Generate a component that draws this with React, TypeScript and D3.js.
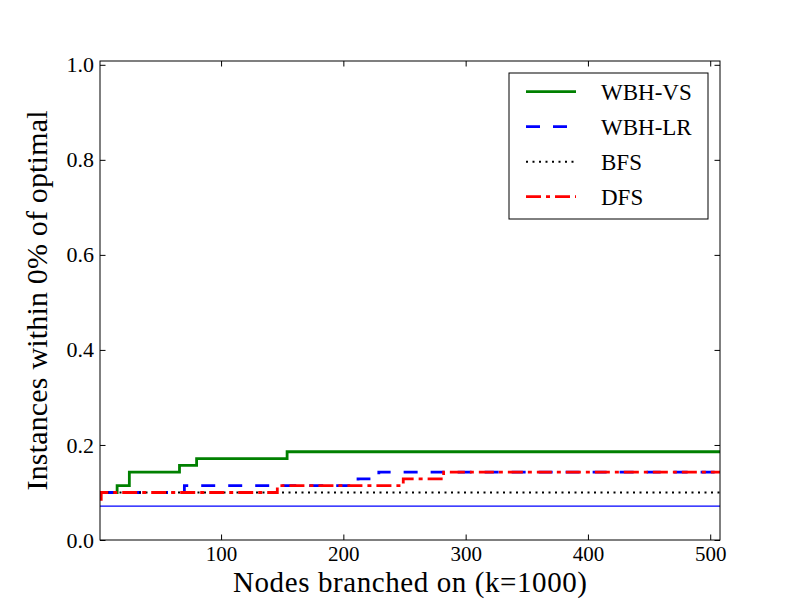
import React, { useEffect, useRef } from 'react';
import * as d3 from 'd3';

// solved instance counts (out of 70) as step changes over nodes branched on
const totalInstances = 70;
const vsNodes = [1, 15, 25, 66, 80, 154, 508];
const vsSolved = [7, 8, 10, 11, 12, 13, 13];
const lrNodes = [1, 70, 212, 229, 508];
const lrSolved = [7, 8, 9, 10, 10];
const bfsNodes = [1, 508];
const bfsSolved = [7, 7];
const dfsNodes = [1, 2, 146, 249, 282, 508];
const dfsSolved = [6, 7, 8, 9, 10, 10];
const refNodes = [1, 508];
const refSolved = [5, 5];

const xTicks = [100, 200, 300, 400, 500];
const yTicks = [0, 0.2, 0.4, 0.6, 0.8, 1.0];

interface Series {
  name: string;
  nodes: number[];
  solved: number[];
  color: string;
  width: number;
  dash: string | null;
  legend: boolean;
}

const series: Series[] = [
  { name: 'WBH-VS', nodes: vsNodes, solved: vsSolved, color: '#008000', width: 2.8, dash: null, legend: true },
  { name: 'WBH-LR', nodes: lrNodes, solved: lrSolved, color: '#0000ff', width: 2.8, dash: '14,13', legend: true },
  { name: 'BFS', nodes: bfsNodes, solved: bfsSolved, color: '#000000', width: 2, dash: '2,4.5', legend: true },
  { name: 'DFS', nodes: dfsNodes, solved: dfsSolved, color: '#ff0000', width: 2.8, dash: '15,5,4,5', legend: true },
  { name: 'ref', nodes: refNodes, solved: refSolved, color: '#0000ff', width: 1.3, dash: null, legend: false },
];

const FONT = "'Liberation Serif', 'DejaVu Serif', serif";

const App: React.FC = () => {
  const svgRef = useRef<SVGSVGElement>(null);

  useEffect(() => {
    const svg = d3.select(svgRef.current!);
    svg.selectAll('*').remove();

    const margin = { top: 61, right: 80, bottom: 60, left: 100 };
    const width = 800;
    const height = 600;
    const innerW = width - margin.left - margin.right;
    const innerH = height - margin.top - margin.bottom;

    const x = d3.scaleLinear().domain([1, 508]).range([0, innerW]);
    const y = d3.scaleLinear().domain([0, 1.008]).range([innerH, 0]);

    const chart = svg
      .append('g')
      .attr('transform', `translate(${margin.left},${margin.top})`);

    // lines
    const line = d3
      .line<[number, number]>()
      .x((d) => x(d[0]))
      .y((d) => y(d[1] / totalInstances))
      .curve(d3.curveStepAfter);

    chart
      .append('clipPath')
      .attr('id', 'plot-clip')
      .append('rect')
      .attr('width', innerW)
      .attr('height', innerH);

    series.forEach((s) => {
      const pts: [number, number][] = s.nodes.map((n, i) => [n, s.solved[i]]);
      chart
        .append('path')
        .datum(pts)
        .attr('clip-path', 'url(#plot-clip)')
        .attr('d', line)
        .attr('fill', 'none')
        .attr('stroke', s.color)
        .attr('stroke-width', s.width)
        .attr('stroke-dasharray', s.dash)
        .attr('stroke-linecap', 'butt');
    });

    // axes with inward ticks
    const tick = -5.5;
    const styleAxis = (g: d3.Selection<SVGGElement, unknown, null, undefined>) => {
      g.select('.domain').remove();
      g.selectAll('line').attr('stroke', '#000').attr('stroke-width', 1);
      g.attr('font-family', FONT).attr('font-size', 22);
      g.selectAll('text').attr('fill', '#000');
    };

    chart
      .append('g')
      .attr('transform', `translate(0,${innerH})`)
      .call(d3.axisBottom(x).tickValues(xTicks).tickSizeInner(tick).tickSizeOuter(0).tickPadding(6).tickFormat(d3.format('d')))
      .call(styleAxis)
      .attr('font-size', 21);

    chart
      .append('g')
      .call(d3.axisTop(x).tickValues(xTicks).tickSizeInner(tick).tickSizeOuter(0).tickFormat(() => ''))
      .call(styleAxis);

    chart
      .append('g')
      .call(d3.axisLeft(y).tickValues(yTicks).tickSizeInner(tick).tickSizeOuter(0).tickPadding(6).tickFormat(d3.format('.1f')))
      .call(styleAxis);

    chart
      .append('g')
      .attr('transform', `translate(${innerW},0)`)
      .call(d3.axisRight(y).tickValues(yTicks).tickSizeInner(tick).tickSizeOuter(0).tickFormat(() => ''))
      .call(styleAxis);

    // frame
    chart
      .append('rect')
      .attr('width', innerW)
      .attr('height', innerH)
      .attr('fill', 'none')
      .attr('stroke', '#000')
      .attr('stroke-width', 1);

    // axis labels
    svg
      .append('text')
      .attr('x', margin.left + innerW / 2)
      .attr('y', 592)
      .attr('text-anchor', 'middle')
      .attr('font-family', FONT)
      .attr('font-size', 29)
      .attr('textLength', 354)
      .text('Nodes branched on (k=1000)');

    svg
      .append('text')
      .attr('transform', `translate(47,${margin.top + innerH / 2}) rotate(-90)`)
      .attr('text-anchor', 'middle')
      .attr('font-family', FONT)
      .attr('font-size', 30)
      .attr('textLength', 380)
      .text('Instances within 0% of optimal');

    // legend
    const legend = svg.append('g').attr('transform', 'translate(509,73)');
    legend
      .append('rect')
      .attr('width', 199)
      .attr('height', 146)
      .attr('fill', '#fff')
      .attr('stroke', '#000')
      .attr('stroke-width', 1);

    const entries = series.filter((s) => s.legend);
    const row = d3.scalePoint<string>().domain(entries.map((s) => s.name)).range([18.7, 123.7]);

    entries.forEach((s) => {
      const yy = row(s.name) as number;
      legend
        .append('line')
        .attr('x1', 17)
        .attr('x2', 67)
        .attr('y1', yy)
        .attr('y2', yy)
        .attr('stroke', s.color)
        .attr('stroke-width', s.width)
        .attr('stroke-dasharray', s.dash);
      legend
        .append('text')
        .attr('x', 92)
        .attr('y', yy + 8)
        .attr('font-family', FONT)
        .attr('font-size', 23)
        .text(s.name);
    });
  }, []);

  return (
    <svg
      ref={svgRef}
      width={800}
      height={600}
      style={{ position: 'absolute', left: 0, top: 0, background: '#fff' }}
    />
  );
};

export default App;
